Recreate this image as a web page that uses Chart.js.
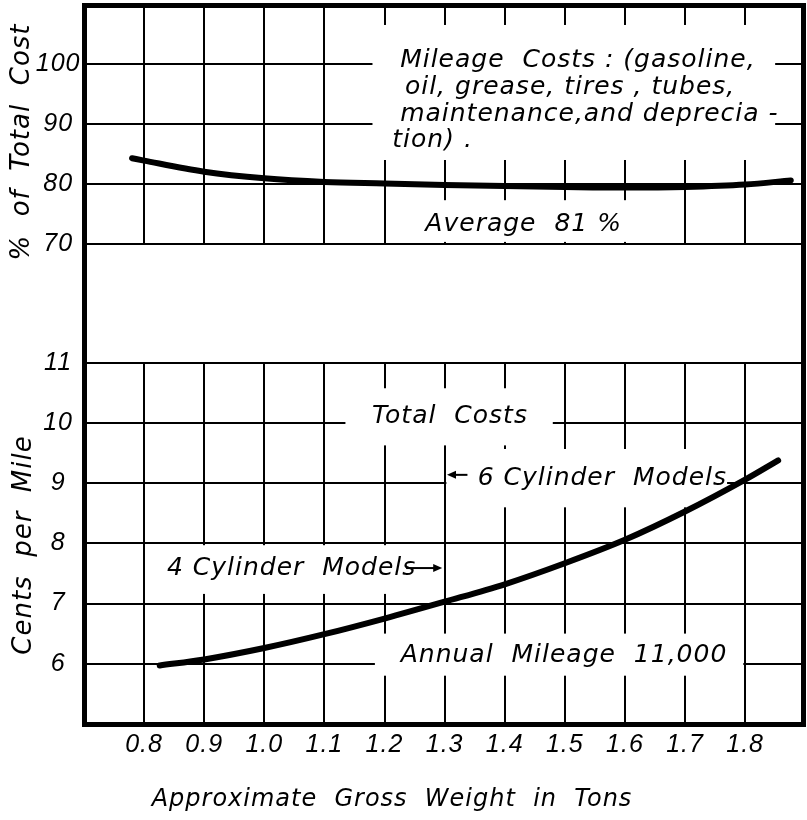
<!DOCTYPE html>
<html>
<head>
<meta charset="utf-8">
<script src="https://cdn.jsdelivr.net/npm/chart.js@4.4.1/dist/chart.umd.min.js"></script>
<style>
  html, body { margin: 0; padding: 0; background: #fff; }
  #wrap { width: 807px; height: 820px; }
</style>
</head>
<body>
<div id="wrap"><canvas id="costChart" width="807" height="820"></canvas></div>
<script>
// tick labels
const tonTicks = [0.8, 0.9, 1.0, 1.1, 1.2, 1.3, 1.4, 1.5, 1.6, 1.7, 1.8];
const shareTicks = [70, 80, 90, 100];
const centTicks = [6, 7, 8, 9, 10, 11];

// Mileage costs as % of total cost
const mileageTons = [0.78, 0.8, 0.9, 1.0, 1.1, 1.2, 1.3, 1.4, 1.5, 1.6, 1.7, 1.8, 1.876];
const mileageShare = [84.3, 83.9, 82.05, 80.95, 80.35, 80.1, 79.85, 79.65, 79.5, 79.4, 79.5, 79.9, 80.6];

// Total costs, cents per mile
const totalTons = [0.826, 0.9, 1.0, 1.1, 1.2, 1.3, 1.4, 1.5, 1.6, 1.7, 1.8, 1.855];
const totalCents = [5.97, 6.07, 6.26, 6.49, 6.75, 7.03, 7.32, 7.67, 8.06, 8.53, 9.06, 9.38];

const handFont = '"DejaVu Sans", sans-serif';
const tickFont = { family: '"Liberation Sans", Arial, sans-serif', style: 'italic', size: 25 };

// lettering placed on the grid (x in tons, y in the panel's own units)
const notes = [
  { axis: 'yTop', x: 1.226, y: 99.5, text: 'Mileage  Costs : (gasoline,' },
  { axis: 'yTop', x: 1.234, y: 95.0, text: 'oil, grease, tires , tubes,' },
  { axis: 'yTop', x: 1.226, y: 90.5, text: 'maintenance,and deprecia -' },
  { axis: 'yTop', x: 1.213, y: 86.17, text: 'tion) .' },
  { axis: 'yTop', x: 1.268, y: 72.17, text: 'Average  81 %' },
  { axis: 'yBot', x: 1.179, y: 10.0, text: 'Total  Costs' },
  { axis: 'yBot', x: 1.355, y: 8.97, text: '6 Cylinder  Models' },
  { axis: 'yBot', x: 0.838, y: 7.48, text: '4 Cylinder  Models' },
  { axis: 'yBot', x: 1.227, y: 6.03, text: 'Annual  Mileage  11,000' }
];

// white patches behind the lettering
const noteBoxes = [
  { axis: 'yTop', x0: 1.18, x1: 1.85, y0: 106.5, y1: 84.0 },
  { axis: 'yTop', x0: 1.217, x1: 1.658, y0: 77.3, y1: 70.35 },
  { axis: 'yBot', x0: 1.135, x1: 1.48, y0: 10.58, y1: 9.63 },
  { axis: 'yBot', x0: 1.303, x1: 1.77, y0: 9.57, y1: 8.6 },
  { axis: 'yBot', x0: 0.827, x1: 1.297, y0: 7.97, y1: 7.16 },
  { axis: 'yBot', x0: 1.184, x1: 1.797, y0: 6.5, y1: 5.8 }
];

const arrows = [
  { axis: 'yBot', from: 1.338, to: 1.304, y: 9.14 },
  { axis: 'yBot', from: 1.236, to: 1.296, y: 7.59 }
];

// axis titles: text, centre point, rotation
const axisTitles = [
  { text: '%  of  Total  Cost', x: 22, y: 142, rot: -Math.PI / 2, size: 26 },
  { text: 'Cents  per  Mile', x: 24, y: 545, rot: -Math.PI / 2, size: 26 },
  { text: 'Approximate  Gross  Weight  in  Tons', x: 392, y: 800, rot: 0, size: 24 }
];

const sketchPlugin = {
  id: 'sketch',
  beforeDraw(chart) {
    chart.ctx.letterSpacing = '1px';
  },
  beforeDatasetsDraw(chart) {
    const { ctx, chartArea: a, scales } = chart;
    const x = scales.x;
    ctx.save();
    ctx.fillStyle = '#fff';
    // blank band between the two panels
    const g0 = scales.yTop.getPixelForValue(70) + 1;
    const g1 = scales.yBot.getPixelForValue(11) - 1;
    ctx.fillRect(a.left, g0, a.right - a.left, g1 - g0);
    noteBoxes.forEach(b => {
      const s = scales[b.axis];
      const l = x.getPixelForValue(b.x0), r = x.getPixelForValue(b.x1);
      const t = s.getPixelForValue(b.y0), btm = s.getPixelForValue(b.y1);
      ctx.fillRect(l, t, r - l, btm - t);
    });

    ctx.fillStyle = '#000';
    ctx.font = 'italic 25px ' + handFont;
    ctx.textAlign = 'left';
    ctx.textBaseline = 'alphabetic';
    notes.forEach(n => {
      ctx.fillText(n.text, x.getPixelForValue(n.x), scales[n.axis].getPixelForValue(n.y));
    });

    ctx.strokeStyle = '#000';
    ctx.lineWidth = 2;
    arrows.forEach(ar => {
      const y = scales[ar.axis].getPixelForValue(ar.y);
      const x0 = x.getPixelForValue(ar.from), x1 = x.getPixelForValue(ar.to);
      const dir = Math.sign(x1 - x0);
      ctx.beginPath();
      ctx.moveTo(x0, y);
      ctx.lineTo(x1 - dir * 6, y);
      ctx.stroke();
      ctx.beginPath();
      ctx.moveTo(x1, y);
      ctx.lineTo(x1 - dir * 9, y - 4);
      ctx.lineTo(x1 - dir * 9, y + 4);
      ctx.closePath();
      ctx.fill();
    });
    ctx.restore();
  },
  afterDraw(chart) {
    const { ctx, chartArea: a } = chart;
    ctx.save();
    ctx.strokeStyle = '#000';
    ctx.lineWidth = 5;
    ctx.strokeRect(a.left - 2.5, a.top - 2.5, a.right - a.left + 5, a.bottom - a.top + 5);
    ctx.fillStyle = '#000';
    ctx.textAlign = 'center';
    ctx.textBaseline = 'middle';
    axisTitles.forEach(t => {
      ctx.save();
      ctx.translate(t.x, t.y);
      ctx.rotate(t.rot);
      ctx.font = 'italic ' + t.size + 'px ' + handFont;
      ctx.fillText(t.text, 0, 0);
      ctx.restore();
    });
    ctx.restore();
  }
};

function fixTicks(values) {
  return scale => { scale.ticks = values.map(v => ({ value: v })); };
}

// fixed box sizes, no label overhang padding
function fitY(scale) {
  scale.width = 87;
  scale.paddingTop = 0;
  scale.paddingBottom = 0;
}

const gridStyle = { color: '#000', lineWidth: 2, drawTicks: false };

new Chart(document.getElementById('costChart'), {
  type: 'line',
  data: {
    datasets: [
      {
        label: 'Mileage costs, % of total',
        data: mileageTons.map((t, i) => ({ x: t, y: mileageShare[i] })),
        yAxisID: 'yTop'
      },
      {
        label: 'Total costs, cents per mile',
        data: totalTons.map((t, i) => ({ x: t, y: totalCents[i] })),
        yAxisID: 'yBot'
      }
    ]
  },
  options: {
    responsive: false,
    animation: false,
    layout: { padding: { top: 8, right: 6, bottom: 0, left: 0 } },
    elements: {
      line: { borderColor: '#000', borderWidth: 6, tension: 0.4, cubicInterpolationMode: 'monotone', borderCapStyle: 'round' },
      point: { radius: 0 }
    },
    plugins: { legend: { display: false }, tooltip: { enabled: false } },
    scales: {
      x: {
        type: 'linear',
        min: 0.705,
        max: 1.893,
        afterBuildTicks: fixTicks(tonTicks),
        afterFit: s => { s.height = 98; s.paddingLeft = 0; s.paddingRight = 0; },
        grid: gridStyle,
        border: { display: false },
        ticks: { color: '#000', font: tickFont, padding: 8, autoSkip: false, maxRotation: 0, callback: v => v.toFixed(1) }
      },
      yTop: {
        type: 'linear',
        position: 'left',
        stack: 'panels',
        stackWeight: 236,
        weight: 3,
        min: 70,
        max: 109.33,
        afterBuildTicks: fixTicks(shareTicks),
        afterFit: fitY,
        grid: gridStyle,
        border: { display: false },
        ticks: { color: '#000', font: tickFont, padding: 8, crossAlign: 'center' }
      },
      yGap: {
        type: 'linear',
        position: 'left',
        stack: 'panels',
        stackWeight: 119,
        weight: 2,
        min: 0,
        max: 1,
        afterFit: fitY,
        grid: { display: false },
        border: { display: false },
        ticks: { display: false }
      },
      yBot: {
        type: 'linear',
        position: 'left',
        stack: 'panels',
        stackWeight: 359,
        weight: 1,
        min: 5.03,
        max: 11,
        afterBuildTicks: fixTicks(centTicks),
        afterFit: fitY,
        grid: gridStyle,
        border: { display: false },
        ticks: { color: '#000', font: tickFont, padding: 15, crossAlign: 'center' }
      }
    }
  },
  plugins: [sketchPlugin]
});
</script>
</body>
</html>
